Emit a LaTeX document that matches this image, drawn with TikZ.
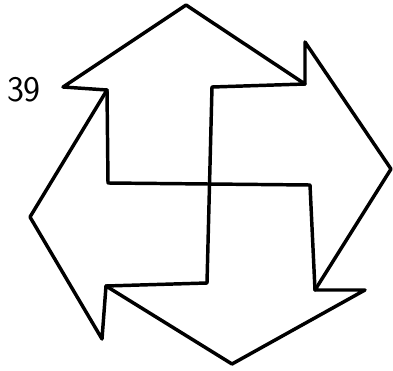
\documentclass[tikz,border=0pt]{standalone}
\usepackage{tikz}
\usetikzlibrary{calc,positioning}
\tikzset{
  outline/.style={line width=2.6pt, line join=round, line cap=round},
  pagenum/.style={font=\sffamily\fontsize{27}{27}\selectfont, inner sep=0pt}
}
\begin{document}
\begin{tikzpicture}[x=0.75pt,y=-0.75pt]
\useasboundingbox (0,0) rectangle (393,371);
%
\coordinate (T) at (186,5);
\coordinate (A1) at (305,84);
\coordinate (B1) at (305,42);
\coordinate (R) at (391,169);
\coordinate (A2) at (315,290);
\coordinate (B2) at (365,290);
\coordinate (Bt) at (232,364);
\coordinate (A3) at (106,286);
\coordinate (B3) at (102,339);
\coordinate (L) at (30,217);
\coordinate (A4) at (107,90);
\coordinate (B4) at (63,87);
%
\coordinate (H1) at (108,183);
\coordinate (H2) at (310,185);
\coordinate (V1) at (212,87);
\coordinate (V2) at (207,283);
%
\draw[outline] (T) -- (A1) -- (B1) -- (R) -- (A2) -- (B2) -- (Bt) -- (A3) -- (B3) -- (L) -- (A4) -- (B4) -- cycle;
\draw[outline] (A4) -- (H1) -- (H2) -- (A2);
\draw[outline] (A1) -- (V1) -- (V2) -- (A3);
%
\node[pagenum] (num) at (24,90) {39};
\end{tikzpicture}
\end{document}
